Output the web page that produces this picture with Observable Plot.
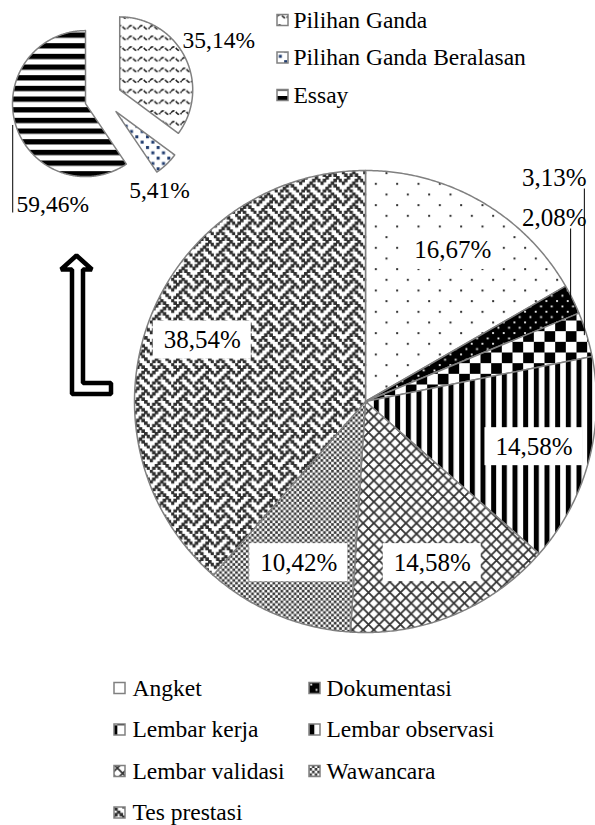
<!DOCTYPE html>
<html>
<head>
<meta charset="utf-8">
<script src="https://cdn.jsdelivr.net/npm/d3@7"></script>
<script src="https://cdn.jsdelivr.net/npm/@observablehq/plot@0.6"></script>
<style>
  html, body { margin: 0; padding: 0; background: #fff; }
  svg { display: block; }
  svg text { font-family: "Liberation Serif", "Times New Roman", serif !important; }
</style>
</head>
<body>
<div id="chart"></div>
<script>
// ---------- data ----------
const mainCategories = ["Angket", "Dokumentasi", "Lembar kerja", "Lembar observasi", "Lembar validasi", "Wawancara", "Tes prestasi"];
const mainValues = [16.67, 2.08, 3.13, 14.58, 14.58, 10.42, 38.54];
const subCategories = ["Pilihan Ganda", "Pilihan Ganda Beralasan", "Essay"];
const subValues = [35.14, 5.41, 59.46];

// ---------- styles ----------
const mainPatterns = ["p-angket", "p-dok", "p-lk", "p-lo", "p-lv", "p-waw", "p-tes"];
const subPatterns = ["p-pg", "p-pgb", "p-essay"];
const FONT = "Liberation Serif";
const W = 595, H = 825;
const M = {cx: 365, cy: 401, r: 231};
const S = {cx: 102.7, cy: 97.7, r: 73, explode: 18.5};
const sliceStroke = "#808080";

const fmt = v => d3.format(".2f")(v).replace(".", ",") + "%";

function slicePts(cx, cy, r, a0, a1) {
  const pts = [{x: cx, y: cy}];
  const n = Math.max(2, Math.ceil((a1 - a0) / (Math.PI / 360)));
  for (let i = 0; i <= n; i++) {
    const a = a0 + (a1 - a0) * i / n;
    pts.push({x: cx + r * Math.sin(a), y: cy - r * Math.cos(a)});
  }
  return pts;
}

const mainPie = d3.pie().sort(null).value(d => d)(mainValues);
const subPie = d3.pie().sort(null).value(d => d)(subValues);

const marks = [];

// main pie slices
mainPie.forEach((a, i) => {
  marks.push(Plot.line(slicePts(M.cx, M.cy, M.r, a.startAngle, a.endAngle), {
    x: "x", y: "y", curve: "linear-closed",
    fill: `url(#${mainPatterns[i]})`, stroke: sliceStroke, strokeWidth: 1.5
  }));
});

// sub pie slices (exploded)
const subGeo = subPie.map((a, i) => {
  const mid = (a.startAngle + a.endAngle) / 2;
  const cx = S.cx + S.explode * Math.sin(mid);
  const cy = S.cy - S.explode * Math.cos(mid);
  return {cx, cy, mid, a, i};
});
subGeo.forEach(g => {
  marks.push(Plot.line(slicePts(g.cx, g.cy, S.r, g.a.startAngle, g.a.endAngle), {
    x: "x", y: "y", curve: "linear-closed",
    fill: `url(#${subPatterns[g.i]})`, stroke: sliceStroke, strokeWidth: 1.5
  }));
});

// main inside labels
const insideLabels = mainPie.map((a, i) => {
  const mid = (a.startAngle + a.endAngle) / 2;
  return {i, mid, value: mainValues[i], x: M.cx + 0.755 * M.r * Math.sin(mid), y: M.cy - 0.755 * M.r * Math.cos(mid), text: fmt(mainValues[i])};
}).filter(d => d.value >= 5);

marks.push(Plot.rect(insideLabels, {x1: d => d.x - 49, x2: d => d.x + 49, y1: d => d.y - 19, y2: d => d.y + 19, fill: "white"}));
marks.push(Plot.text(insideLabels, {x: "x", y: "y", text: "text", fontSize: 25, fontFamily: FONT, fill: "black"}));

// main outside labels with leader lines (small slices)
const outside = mainPie.map((a, i) => ({a, i, value: mainValues[i]})).filter(d => d.value < 5);
const outsideLabels = outside.map((d, k) => {
  const mid = (d.a.startAngle + d.a.endAngle) / 2;
  const lx = M.cx + 0.99 * M.r * Math.sin(mid);
  const ly = M.cy - 0.99 * M.r * Math.cos(mid);
  const ty = 217 - 40 * k;
  return {lx, ly, ty, tx: 586, text: fmt(d.value)};
});
marks.push(Plot.link(outsideLabels, {x1: "lx", x2: "lx", y1: d => d.ty + 11, y2: "ly", stroke: "black", strokeWidth: 1}));
marks.push(Plot.text(outsideLabels, {x: "tx", y: "ty", text: "text", textAnchor: "end", fontSize: 25, fontFamily: FONT, fill: "black"}));

// sub pie labels
const subLabelPos = [
  {x: 182, y: 40, anchor: "start"},
  {x: 159, y: 190, anchor: "middle"},
  {x: 16, y: 204, anchor: "start"}
];
const subLabels = subValues.map((v, i) => ({...subLabelPos[i], text: fmt(v)}));
marks.push(Plot.text(subLabels.filter(d => d.anchor === "start"), {x: "x", y: "y", text: "text", textAnchor: "start", fontSize: 23.5, fontFamily: FONT, fill: "black"}));
marks.push(Plot.text(subLabels.filter(d => d.anchor === "middle"), {x: "x", y: "y", text: "text", textAnchor: "middle", fontSize: 23.5, fontFamily: FONT, fill: "black"}));
// leader for essay label
{
  const g = subGeo[2];
  const px = g.cx + S.r * Math.sin(g.mid) - 3;
  const py = g.cy - S.r * Math.cos(g.mid);
  marks.push(Plot.link([{x: px, y1: py, y2: 212}], {x1: "x", x2: "x", y1: "y1", y2: "y2", stroke: "black", strokeWidth: 1}));
}

// hollow L arrow (from sub pie to main pie)
const arrowShape = [
  {x: 76, y: 255}, {x: 91.5, y: 269}, {x: 82.5, y: 269}, {x: 82.5, y: 382.5},
  {x: 110.5, y: 382.5}, {x: 110.5, y: 393.5}, {x: 71.5, y: 393.5}, {x: 71.5, y: 269},
  {x: 60.5, y: 269}
];
marks.push(Plot.line(arrowShape, {x: "x", y: "y", curve: "linear-closed", fill: "white", stroke: "black", strokeWidth: 4.5, strokeLinejoin: "miter"}));

// top legend (sub pie)
const topLegend = subCategories.map((c, i) => ({c, pat: subPatterns[i], y: 19.5 + 37.5 * i}));
topLegend.forEach(d => {
  marks.push(Plot.rect([d], {x1: 277, x2: 288, y1: d => d.y - 5, y2: d => d.y + 6, fill: `url(#${d.pat})`, stroke: sliceStroke, strokeWidth: 1.5}));
});
marks.push(Plot.text(topLegend, {x: 293, y: "y", text: "c", textAnchor: "start", fontSize: 23.5, fontFamily: FONT, fill: "black"}));

// bottom legend (main pie)
const bottomLegend = mainCategories.map((c, i) => ({c, pat: mainPatterns[i], col: i % 2, row: Math.floor(i / 2)}))
  .map(d => ({...d, ix: d.col ? 309 : 114, tx: d.col ? 326 : 132, y: 687.5 + 41.5 * d.row}));
bottomLegend.forEach(d => {
  marks.push(Plot.rect([d], {x1: d.ix, x2: d.ix + 11, y1: d.y - 5, y2: d.y + 6, fill: `url(#${d.pat})`, stroke: sliceStroke, strokeWidth: 1.5}));
});
marks.push(Plot.text(bottomLegend, {x: "tx", y: "y", text: "c", textAnchor: "start", fontSize: 23.5, fontFamily: FONT, fill: "black"}));

const svg = Plot.plot({
  width: W, height: H, margin: 0,
  x: {type: "linear", domain: [0, W], range: [0, W], axis: null},
  y: {type: "linear", domain: [0, H], range: [0, H], axis: null},
  style: {background: "white", fontFamily: "Liberation Serif"},
  marks
});

// ---------- patterns ----------
const U = 8 / 3;
function bitmapPattern(id, rows, unit, fg, bg, grow = 0) {
  const s = 8 * unit;
  let out = `<pattern id="${id}" patternUnits="userSpaceOnUse" width="${s}" height="${s}"><rect width="${s}" height="${s}" fill="${bg}"/>`;
  rows.forEach((r, j) => {
    for (let i = 0; i < 8; i++) if (r & (0x80 >> i)) out += `<rect x="${i * unit - grow / 2}" y="${j * unit - grow / 2}" width="${unit + grow}" height="${unit + grow}" fill="${fg}"/>`;
  });
  return out + "</pattern>";
}
const T = 8 * U / 2; // 10.667
const defs = [
  `<pattern id="p-angket" patternUnits="userSpaceOnUse" width="${2 * T}" height="${2 * T}"><rect width="${2 * T}" height="${2 * T}" fill="#fff"/><rect x="1" y="1" width="2" height="2" fill="#333"/><rect x="${T + 1}" y="${T + 1}" width="2" height="2" fill="#333"/></pattern>`,
  `<pattern id="p-dok" patternUnits="userSpaceOnUse" width="${T}" height="${T}"><rect width="${T}" height="${T}" fill="#000"/><rect x="1" y="1" width="1.8" height="1.8" fill="#fff"/><rect x="${T / 2 + 1}" y="${T / 2 + 1}" width="1.8" height="1.8" fill="#fff"/></pattern>`,
  `<pattern id="p-lk" patternUnits="userSpaceOnUse" width="${2 * T}" height="${2 * T}"><rect width="${2 * T}" height="${2 * T}" fill="#fff"/><rect width="${T}" height="${T}" fill="#000"/><rect x="${T}" y="${T}" width="${T}" height="${T}" fill="#000"/></pattern>`,
  `<pattern id="p-lo" patternUnits="userSpaceOnUse" width="${T}" height="${T}"><rect width="${T}" height="${T}" fill="#fff"/><rect x="0" width="5" height="${T}" fill="#000"/></pattern>`,
  `<pattern id="p-lv" patternUnits="userSpaceOnUse" width="${T}" height="${T}"><rect width="${T}" height="${T}" fill="#fff"/><path d="M0,0L${T},${T}M${T},0L0,${T}M-1,${T - 1}L1,${T + 1}M${T - 1},-1L${T + 1},1" stroke="#333" stroke-width="1.8"/></pattern>`,
  bitmapPattern("p-waw", [0xAA, 0x55, 0xAA, 0x55, 0xAA, 0x55, 0xAA, 0x55], U, "#3a3a3a", "#fff"),
  bitmapPattern("p-tes", [0x88, 0x54, 0x22, 0x45, 0x88, 0x14, 0x22, 0x51], U, "#2e2e2e", "#fff", 0.9),
  `<pattern id="p-pg" patternUnits="userSpaceOnUse" width="${T}" height="${T}"><rect width="${T}" height="${T}" fill="#fff"/><path d="M0,5.5 Q${T / 4},2 ${T / 2},5.5 T${T},5.5" fill="none" stroke="#222" stroke-width="1.6" stroke-dasharray="4 1.5"/></pattern>`,
  `<pattern id="p-pgb" patternUnits="userSpaceOnUse" width="${T}" height="${T}"><rect width="${T}" height="${T}" fill="#fff"/><rect x="1.5" y="1.5" width="3" height="3" fill="#1f3b6e"/><rect x="${T / 2 + 1.5}" y="${T / 2 + 1.5}" width="3" height="3" fill="#1f3b6e"/></pattern>`,
  `<pattern id="p-essay" patternUnits="userSpaceOnUse" width="${T}" height="${T}"><rect width="${T}" height="${T}" fill="#fff"/><rect y="0" width="${T}" height="5.3" fill="#000"/></pattern>`
].join("");
const parsed = new DOMParser().parseFromString(`<svg xmlns="http://www.w3.org/2000/svg"><defs>${defs}</defs></svg>`, "image/svg+xml");
svg.insertBefore(document.importNode(parsed.documentElement.firstChild, true), svg.firstChild);

document.getElementById("chart").appendChild(svg);
</script>
</body>
</html>
